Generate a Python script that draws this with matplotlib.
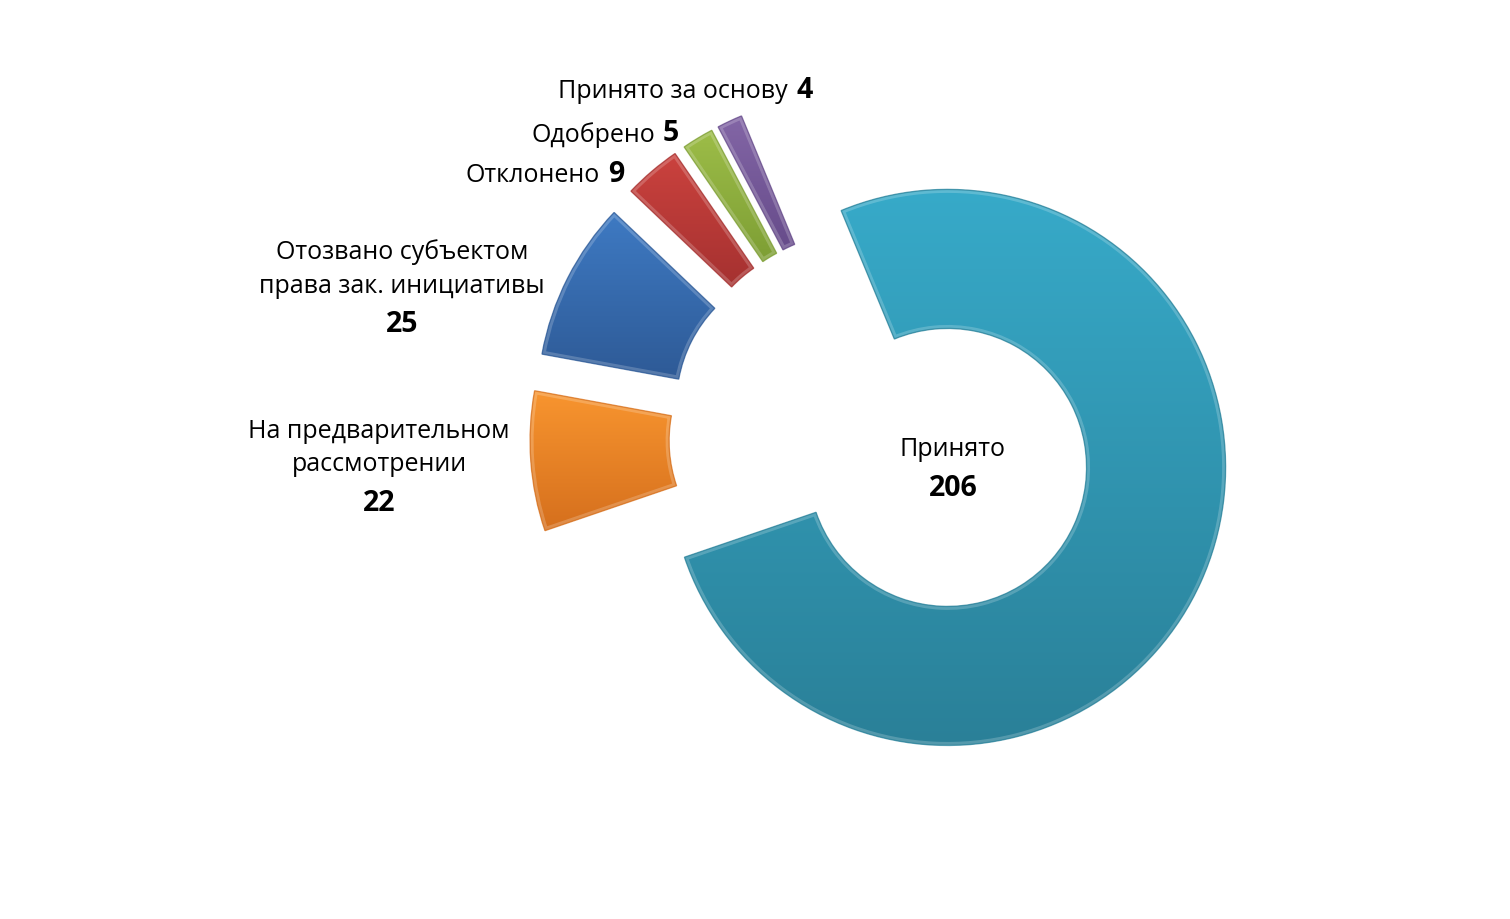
import numpy as np
import matplotlib.pyplot as plt
from matplotlib.colors import to_rgba
from matplotlib.patches import PathPatch

# данные диаграммы
categories = ['Принято', 'На предварительном\nрассмотрении',
              'Отозвано субъектом\nправа зак. инициативы',
              'Отклонено', 'Одобрено', 'Принято за основу']
values = [206, 22, 25, 9, 5, 4]

# цвета: верх / низ градиента
top_colors = ['#37AAC9', '#F8952F', '#3E7AC3', '#CB423E', '#9DBD48', '#8366A6']
bottom_colors = ['#2A8098', '#D56F1D', '#2E5A96', '#A53130', '#7D9E34', '#664B8A']
explode = [0.277, 0.25, 0.25, 0.25, 0.25, 0.25]

W, H = 1510, 920
R_PX = 278.0           # внешний радиус в пикселях
CX, CY = 877.4, 436.7  # центр диаграммы (пиксели, от верхнего края)

plt.rcParams['font.family'] = ['Open Sans', 'DejaVu Sans']

fig = plt.figure(figsize=(W / 100, H / 100), dpi=100)
ax = fig.add_axes([0, 0, 1, 1])

wedges, _ = ax.pie(values, startangle=112.5, counterclock=False,
                   explode=explode, radius=1.0,
                   colors=top_colors,
                   wedgeprops=dict(width=0.5, linewidth=0))

# градиентная заливка + лёгкий "скос" по краю
for w, c_top, c_bot in zip(wedges, top_colors, bottom_colors):
    path = w.get_path()
    bb = path.get_extents()
    t = np.linspace(0, 1, 256)[:, None]
    a, b = np.array(to_rgba(c_top)), np.array(to_rgba(c_bot))
    grad = (a * (1 - t) + b * t)[:, None, :]
    im = ax.imshow(grad, extent=(bb.x0, bb.x1, bb.y0, bb.y1),
                   origin='upper', aspect='auto', zorder=2,
                   interpolation='bilinear')
    im.set_clip_path(w)
    glow = PathPatch(path, facecolor='none', edgecolor='white',
                     linewidth=5, alpha=0.2, zorder=3)
    ax.add_patch(glow)
    glow.set_clip_path(w)
    ax.add_patch(PathPatch(path, facecolor='none', edgecolor=c_bot,
                           linewidth=1.0, alpha=0.7, zorder=4))

ax.set_xlim(-CX / R_PX, (W - CX) / R_PX)
ax.set_ylim(-(H - CY) / R_PX, CY / R_PX)
ax.set_aspect('equal')
ax.axis('off')


def fx(px):
    return px / W


def fy(py):
    return 1 - py / H


REG = 18
BOLD = 20.5

# центральная подпись
fig.text(fx(953), fy(450), categories[0], ha='center', va='center', fontsize=REG)
fig.text(fx(953), fy(488), str(values[0]), ha='center', va='center',
         fontsize=BOLD, fontweight='bold')

# многострочные подписи слева
fig.text(fx(379), fy(448), categories[1], ha='center', va='center',
         fontsize=REG, linespacing=1.45)
fig.text(fx(379), fy(504), str(values[1]), ha='center', va='center',
         fontsize=BOLD, fontweight='bold')
fig.text(fx(402), fy(269), categories[2], ha='center', va='center',
         fontsize=REG, linespacing=1.45)
fig.text(fx(402), fy(325), str(values[2]), ha='center', va='center',
         fontsize=BOLD, fontweight='bold')

# однострочные подписи: текст + жирное число
inline = [(3, 600, 175), (4, 655, 135), (5, 788, 91)]
for i, xr, yc in inline:
    fig.text(fx(xr), fy(yc), categories[i], ha='right', va='center', fontsize=REG)
    fig.text(fx(xr + 8), fy(yc - 1), str(values[i]), ha='left', va='center',
             fontsize=BOLD, fontweight='bold')

fig.savefig('out.png', dpi=100, facecolor='white')
